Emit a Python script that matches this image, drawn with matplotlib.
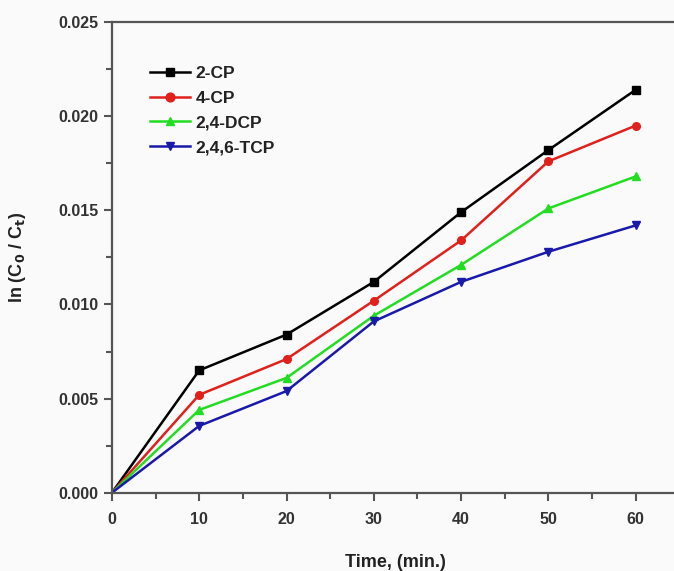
import matplotlib
matplotlib.use("Agg")
import matplotlib.pyplot as plt
from matplotlib.ticker import MultipleLocator, FormatStrFormatter

plt.rcParams['font.family'] = ['Liberation Sans', 'DejaVu Sans']

time = [0, 10, 20, 30, 40, 50, 60]
cp2 = [0.0, 0.0065, 0.0084, 0.0112, 0.0149, 0.0182, 0.0214]
cp4 = [0.0, 0.0052, 0.0071, 0.0102, 0.0134, 0.0176, 0.0195]
dcp24 = [0.0, 0.0044, 0.0061, 0.0094, 0.0121, 0.0151, 0.0168]
tcp246 = [0.0, 0.00355, 0.0054, 0.0091, 0.0112, 0.0128, 0.0142]

labels = ['2-CP', '4-CP', '2,4-DCP', '2,4,6-TCP']
colors = ['#000000', '#e0201b', '#22dd22', '#1a1aaa']
markers = ['s', 'o', '^', 'v']
series = [cp2, cp4, dcp24, tcp246]

fig = plt.figure(figsize=(6.74, 5.71), dpi=100, facecolor='#fafafa')
ax = fig.add_axes([0.166, 0.137, 0.842, 0.8245])
ax.set_facecolor('#fafafa')

for y, lab, c, m in zip(series, labels, colors, markers):
    ax.plot(time, y, color=c, marker=m, markersize=5.5, linewidth=1.8, label=lab,
            markevery=list(range(1, len(time))))

ax.set_xlim(0, 65)
ax.set_ylim(0, 0.025)
ax.xaxis.set_major_locator(MultipleLocator(10))
ax.xaxis.set_minor_locator(MultipleLocator(5))
ax.yaxis.set_major_locator(MultipleLocator(0.005))
ax.yaxis.set_minor_locator(MultipleLocator(0.0025))
ax.yaxis.set_major_formatter(FormatStrFormatter('%.3f'))

for s in ax.spines.values():
    s.set_color('#555555')
    s.set_linewidth(1.6)
ax.tick_params(which='both', direction='out', color='#555555', width=1.5)
ax.tick_params(which='major', length=6, labelsize=11.5)
ax.tick_params(axis='x', which='major', pad=8)
ax.tick_params(which='minor', length=4)
for lbl in ax.get_xticklabels() + ax.get_yticklabels():
    lbl.set_fontweight('bold')
    lbl.set_color('#333333')

ax.set_xlabel('Time, (min.)', fontsize=13, fontweight='bold', color='#222222', labelpad=19)
ax.set_ylabel(r'ln (C$_\mathbf{0}$ / C$_\mathbf{t}$)', fontsize=13, fontweight='bold',
              color='#222222', labelpad=22)

leg = ax.legend(loc='upper left', bbox_to_anchor=(0.04, 0.94), frameon=False,
                fontsize=12.5, handlelength=2.3, labelspacing=0.55, handletextpad=0.3,
                markerscale=1.15)
for t in leg.get_texts():
    t.set_fontweight('bold')
    t.set_color('#222222')

fig.savefig('out.png', dpi=100, facecolor=fig.get_facecolor())
